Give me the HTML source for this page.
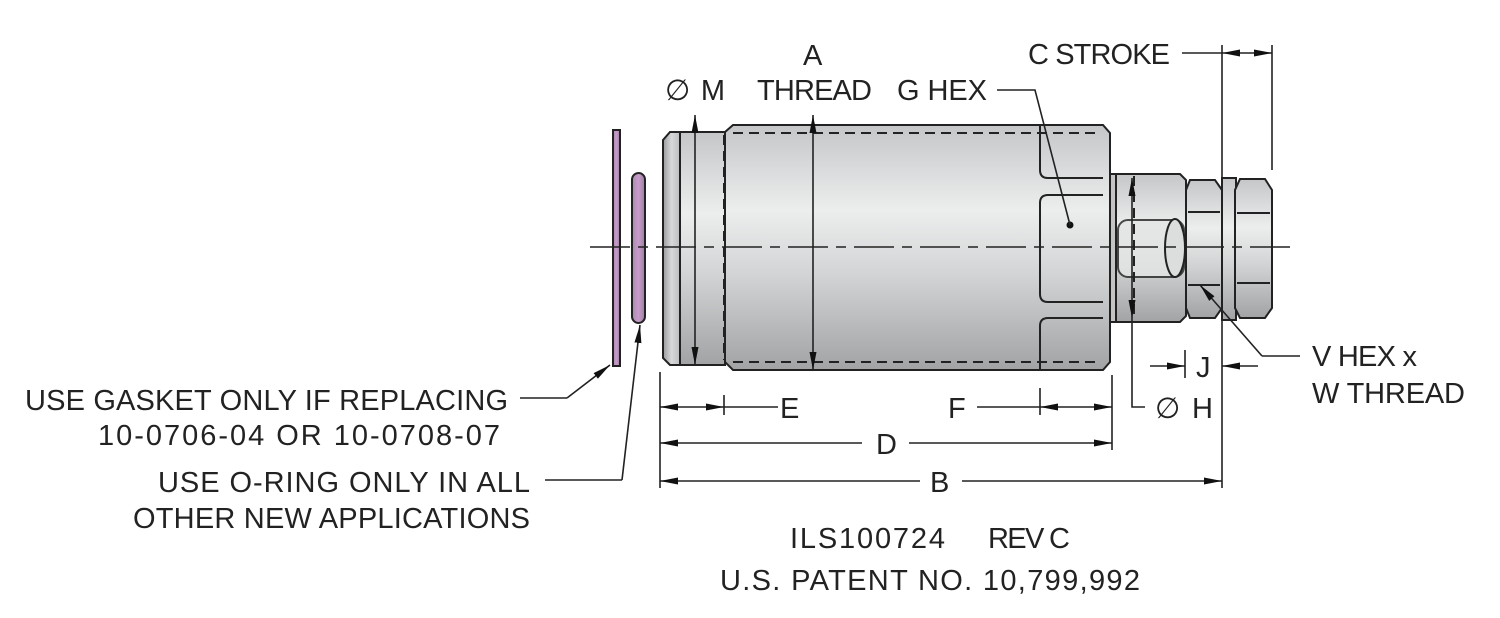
<!DOCTYPE html>
<html><head><meta charset="utf-8"><style>
html,body{margin:0;padding:0;background:#fff;}
svg{display:block}
text{font-family:"Liberation Sans",sans-serif;font-size:29px;fill:#222;}
</style></head><body>
<svg width="1500" height="618" viewBox="0 0 1500 618" xmlns="http://www.w3.org/2000/svg">
<defs>
<linearGradient id="gv" x1="0" y1="0" x2="0" y2="1">
<stop offset="0" stop-color="#c4c6c8"/><stop offset="0.35" stop-color="#eceeee"/><stop offset="0.6" stop-color="#d4d5d6"/><stop offset="1" stop-color="#a2a3a4"/>
</linearGradient>
<linearGradient id="gh" x1="0" y1="0" x2="1" y2="0">
<stop offset="0" stop-color="#9a9b9c"/><stop offset="0.5" stop-color="#d8d9da"/><stop offset="1" stop-color="#bcbdbe"/>
</linearGradient>
<linearGradient id="pur" x1="0" y1="0" x2="1" y2="0">
<stop offset="0" stop-color="#a88aa8"/><stop offset="0.5" stop-color="#c89ccc"/><stop offset="1" stop-color="#9a7f9c"/>
</linearGradient>
<marker id="ar" viewBox="0 0 18 7" refX="18" refY="3.5" markerWidth="18" markerHeight="7" markerUnits="userSpaceOnUse" orient="auto-start-reverse"><path d="M0,0 L18,3.5 L0,7 z" fill="#111"/></marker>
</defs>
<g stroke="#222" stroke-width="2">
<rect x="613" y="130" width="7" height="236" fill="url(#pur)"/>
<rect x="632" y="173" width="13" height="150" rx="6.5" fill="url(#pur)"/>
<path d="M663,140 L670,132 L680,132 L680,365 L670,365 L663,358 Z" fill="url(#gh)"/>
<rect x="680" y="132" width="45" height="233" fill="url(#gv)"/>
<path d="M725,132 L733,125 L1103,125 L1110,133 L1110,362 L1103,370 L733,370 L725,362 Z" fill="url(#gv)"/>
<path d="M1040,125 L1040,170 Q1040,178 1048,178 L1103,178" fill="none"/>
<path d="M1103,195 L1048,195 Q1040,195 1040,203 L1040,294 Q1040,302 1048,302 L1103,302" fill="none"/>
<path d="M1103,318 L1048,318 Q1040,318 1040,326 L1040,370" fill="none"/>
<rect x="1110" y="174" width="6" height="148" fill="#c4c4c4"/>
<path d="M1116,174 L1180,174 L1186,180 L1186,316 L1180,322 L1116,322 Z" fill="url(#gv)"/>
<rect x="1118" y="220" width="66" height="57" rx="10" fill="#e4e6e6" opacity="0.8"/>
<ellipse cx="1175" cy="248" rx="10" ry="29" fill="#dcdede"/>
<path d="M1190,180 L1215,180 L1222,190 L1222,308 L1215,318 L1190,318 L1186,308 L1186,190 Z" fill="url(#gv)"/>
<path d="M1188,212 L1220,212 M1188,285 L1220,285" fill="none"/>
<rect x="1222" y="178" width="14" height="142" fill="url(#gv)"/>
<path d="M1240,179 L1265,179 L1272,190 L1272,308 L1265,318 L1240,318 L1235,308 L1235,190 Z" fill="url(#gv)"/>
<path d="M1237,213 L1270,213 M1237,283 L1270,283" fill="none"/>
</g>
<g stroke="#222" stroke-width="2" stroke-dasharray="10,6" fill="none">
<path d="M733,133 L1100,133 M733,362 L1100,362 M724,135 L724,360"/>
<path d="M1134,176 L1134,320"/>
</g>
<path d="M590,247 L1298,247" stroke="#222" stroke-width="1.6" stroke-dasharray="40,8,10,8" fill="none"/>
<circle cx="1070" cy="225" r="3.5" fill="#111"/>
<g stroke="#222" stroke-width="1.6" fill="none">
<line x1="695" y1="115" x2="695" y2="365" marker-start="url(#ar)" marker-end="url(#ar)"/>
<line x1="813" y1="115" x2="813" y2="370" marker-start="url(#ar)" marker-end="url(#ar)"/>
<path d="M997,90 L1035,90 L1070,225"/>
<path d="M1182,53 L1222,53"/>
<line x1="1222" y1="45" x2="1222" y2="488"/>
<line x1="1272" y1="45" x2="1272" y2="170"/>
<line x1="1247" y1="53" x2="1222" y2="53" marker-end="url(#ar)"/>
<line x1="1247" y1="53" x2="1272" y2="53" marker-end="url(#ar)"/>
<line x1="1132" y1="178" x2="1132" y2="318" marker-start="url(#ar)" marker-end="url(#ar)"/>
<path d="M1132,318 L1132,407 L1145,407"/>
<line x1="1185" y1="350" x2="1185" y2="378"/>
<line x1="1150" y1="366" x2="1185" y2="366" marker-end="url(#ar)"/>
<line x1="1258" y1="366" x2="1222" y2="366" marker-end="url(#ar)"/>
<path d="M1262,356 L1300,356"/>
<line x1="1262" y1="356" x2="1200" y2="285" marker-end="url(#ar)"/>
<line x1="660" y1="372" x2="660" y2="488"/>
<line x1="724" y1="395" x2="724" y2="415"/>
<line x1="1040" y1="388" x2="1040" y2="415"/>
<line x1="1112" y1="375" x2="1112" y2="450"/>
<line x1="692" y1="407" x2="660" y2="407" marker-end="url(#ar)"/>
<line x1="692" y1="407" x2="724" y2="407" marker-end="url(#ar)"/>
<line x1="724" y1="407" x2="778" y2="407"/>
<line x1="977" y1="407" x2="1040" y2="407"/>
<line x1="1076" y1="407" x2="1040" y2="407" marker-end="url(#ar)"/>
<line x1="1076" y1="407" x2="1112" y2="407" marker-end="url(#ar)"/>
<line x1="862" y1="443" x2="660" y2="443" marker-end="url(#ar)"/>
<line x1="909" y1="443" x2="1112" y2="443" marker-end="url(#ar)"/>
<line x1="920" y1="481" x2="660" y2="481" marker-end="url(#ar)"/>
<line x1="962" y1="481" x2="1222" y2="481" marker-end="url(#ar)"/>
<path d="M520,398 L567,398"/>
<line x1="567" y1="398" x2="610" y2="365" marker-end="url(#ar)"/>
<path d="M545,480 L622,480"/>
<line x1="622" y1="480" x2="640" y2="325" marker-end="url(#ar)"/>
</g>
<text x="803" y="65">A</text>
<text x="757" y="100" textLength="115">THREAD</text>
<text x="665" y="100" textLength="60">∅ M</text>
<text x="897" y="100" textLength="90">G HEX</text>
<text x="1028" y="64" textLength="142">C STROKE</text>
<text x="780" y="418">E</text>
<text x="948" y="418">F</text>
<text x="876" y="454">D</text>
<text x="930" y="492">B</text>
<text x="1196" y="377">J</text>
<text x="1155" y="418" textLength="58">∅ H</text>
<text x="1312" y="366" textLength="105">V HEX x</text>
<text x="1312" y="403" textLength="153">W THREAD</text>
<text x="25" y="410" textLength="483">USE GASKET ONLY IF REPLACING</text>
<text x="98" y="445" textLength="402">10-0706-04 OR 10-0708-07</text>
<text x="158" y="492" textLength="372">USE O-RING ONLY IN ALL</text>
<text x="133" y="528" textLength="397">OTHER NEW APPLICATIONS</text>
<text x="790" y="548" textLength="155">ILS100724</text>
<text x="988" y="548" textLength="82">REV C</text>
<text x="720" y="590" textLength="420">U.S. PATENT NO. 10,799,992</text>
</svg>
</body></html>
